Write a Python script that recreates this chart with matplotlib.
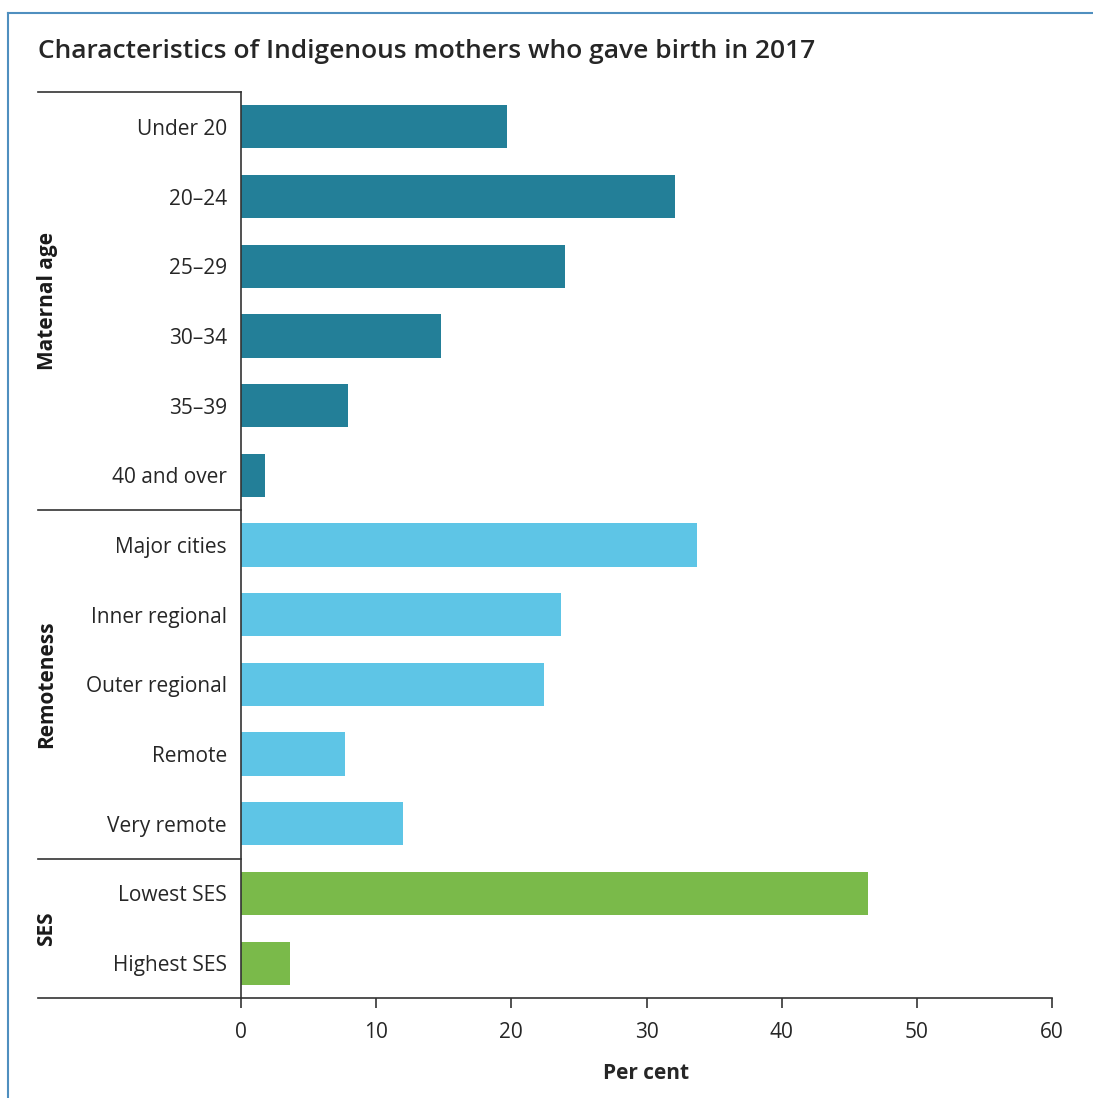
import matplotlib
matplotlib.use("Agg")
import matplotlib.pyplot as plt
from matplotlib.lines import Line2D
import matplotlib.transforms as mtransforms

plt.rcParams['font.family'] = ['Open Sans', 'DejaVu Sans']

categories = ["Under 20", "20\u201324", "25\u201329", "30\u201334", "35\u201339", "40 and over",
              "Major cities", "Inner regional", "Outer regional", "Remote", "Very remote",
              "Lowest SES", "Highest SES"]
values = [19.7, 32.1, 24.0, 14.8, 7.9, 1.8,
          33.7, 23.7, 22.4, 7.7, 12.0,
          46.4, 3.6]
groups = ["Maternal age"] * 6 + ["Remoteness"] * 5 + ["SES"] * 2
group_names = ["Maternal age", "Remoteness", "SES"]
group_colors = {"Maternal age": "#237f98", "Remoteness": "#5ec5e6", "SES": "#7aba4a"}
xticks = [0, 10, 20, 30, 40, 50, 60]

W, H = 1093, 1098
fig = plt.figure(figsize=(W / 100, H / 100), dpi=100)
ax = fig.add_axes([241 / W, 1 - 998 / H, (1052 - 241) / W, (998 - 92) / H])

ypos = list(range(len(categories)))
ax.barh(ypos, values, height=0.62, color=[group_colors[g] for g in groups], zorder=2)
ax.set_ylim(len(categories) - 0.5, -0.5)
ax.set_xlim(0, 60)
ax.set_yticks(ypos)
ax.set_yticklabels(categories)
ax.set_xticks(xticks)
ax.set_xticklabels([str(t) for t in xticks])
text_col = "#262626"
ax.tick_params(axis='y', length=0, pad=10, labelsize=15, labelcolor=text_col)
ax.tick_params(axis='x', length=7, width=1.2, color="#333333", pad=10, labelsize=15, labelcolor=text_col)
for s in ["top", "right"]:
    ax.spines[s].set_visible(False)
for s in ["left", "bottom"]:
    ax.spines[s].set_color("#333333")
    ax.spines[s].set_linewidth(1.2)
ax.set_xlabel("Per cent", fontsize=15, fontweight='bold', color=text_col, labelpad=15)

# group separators extending left of axes
trans = mtransforms.blended_transform_factory(fig.transFigure, ax.transData)
x0 = 38 / W
x1 = 241 / W
bounds = [-0.5]
idx = 0
for g in group_names:
    n = groups.count(g)
    bounds.append(idx + n - 0.5)
    idx += n
for b in bounds:
    fig.add_artist(Line2D([x0, x1], [b, b], transform=trans, color="#333333", lw=1.2))

# group labels
start = 0
for g in group_names:
    n = groups.count(g)
    mid = start + (n - 1) / 2
    fig.text(47 / W, mid, g, transform=trans, rotation=90, ha='center', va='center',
             fontsize=15, fontweight='bold', color="#1a1a1a")
    start += n

# title
fig.text(38 / W, 1 - 52 / H, "Characteristics of Indigenous mothers who gave birth in 2017",
         fontsize=19, fontweight='semibold', color="#262626", ha='left', va='center')

# outer frame (top & left)
fig.add_artist(Line2D([8 / W, 1.0], [1 - 13 / H, 1 - 13 / H], transform=fig.transFigure,
                      color="#4f8fbf", lw=1.5))
fig.add_artist(Line2D([8 / W, 8 / W], [1 - 13 / H, 0], transform=fig.transFigure,
                      color="#4f8fbf", lw=1.5))

fig.savefig("out.png", dpi=100)
